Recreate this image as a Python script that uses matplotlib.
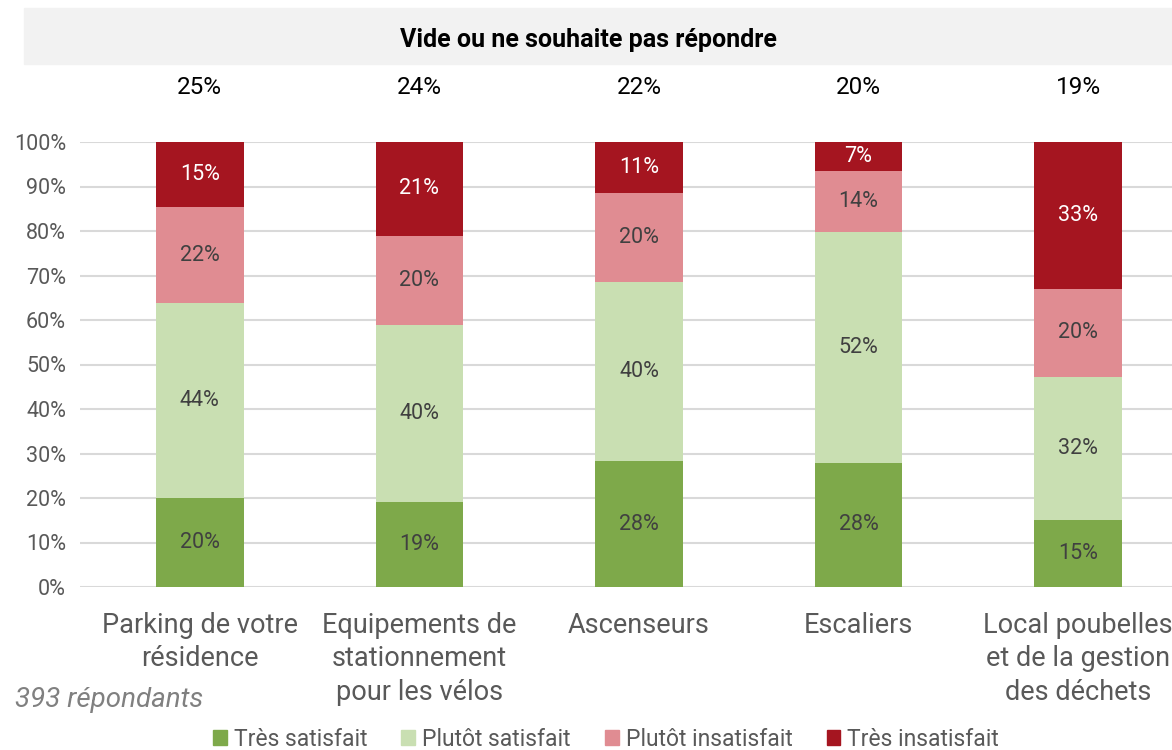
import matplotlib
matplotlib.use("Agg")
import matplotlib.pyplot as plt
from matplotlib.patches import Rectangle
import numpy as np

categories = ["Parking de votre\nrésidence", "Equipements de\nstationnement\npour les vélos",
              "Ascenseurs", "Escaliers", "Local poubelles\net de la gestion\ndes déchets"]
no_answer = ["25%", "24%", "22%", "20%", "19%"]
series_names = ["Très satisfait", "Plutôt satisfait", "Plutôt insatisfait", "Très insatisfait"]
tres_satisfait = [20.0, 19.1, 28.3, 27.9, 15.1]
plutot_satisfait = [43.8, 39.8, 40.2, 51.9, 32.1]
plutot_insatisfait = [21.6, 20.0, 20.0, 13.7, 19.8]
tres_insatisfait = [14.6, 21.1, 11.4, 6.6, 33.0]
yticks = [0, 10, 20, 30, 40, 50, 60, 70, 80, 90, 100]

colors = ["#7EA94A", "#C9DFB2", "#E08C92", "#A51520"]
label_colors = ["#404040", "#404040", "#404040", "#FFFFFF"]
series = [tres_satisfait, plutot_satisfait, plutot_insatisfait, tres_insatisfait]

plt.rcParams['font.family'] = ['Roboto', 'DejaVu Sans']

W, H = 1172, 750
fig = plt.figure(figsize=(W / 100, H / 100), dpi=100)
ax = fig.add_axes([80 / W, (H - 587) / H, (W - 80) / W, 445 / H])

x = np.arange(len(categories))
bottom = np.zeros(len(categories))
for vals, c, lc in zip(series, colors, label_colors):
    vals = np.array(vals)
    ax.bar(x, vals, width=0.4, bottom=bottom, color=c, zorder=3)
    for xi, b, v in zip(x, bottom, vals):
        ax.text(xi, b + v / 2, f"{round(v):.0f}%", ha="center", va="center",
                color=lc, fontsize=15.5, zorder=4)
    bottom += vals

ax.set_xlim(-0.546, 4.428)
ax.set_ylim(0, 100)
ax.set_yticks(yticks)
ax.set_yticklabels([f"{t}%" for t in yticks], fontsize=15.5, color="#595959")
ax.yaxis.grid(True, color="#D9D9D9", linewidth=1.5, zorder=0)
ax.set_axisbelow(True)
for s in ax.spines.values():
    s.set_visible(False)
ax.tick_params(axis="y", length=0, pad=10)
ax.tick_params(axis="x", length=0, pad=18)
ax.set_xticks(x)
ax.set_xticklabels(categories, fontsize=19.5, color="#595959", linespacing=1.3, va="top")

# header band
fig.patches.append(Rectangle((24 / W, (H - 64) / H), (W - 24) / W, 56 / H,
                             transform=fig.transFigure, color="#F2F2F2", zorder=0))
fig.text(588 / W, (H - 40) / H, "Vide ou ne souhaite pas répondre", ha="center", va="center",
         fontsize=18, fontweight="bold", color="#000000")
for xi, t in zip(x, no_answer):
    ax.text(xi, 1.0 + 55 / 445, t, transform=ax.get_xaxis_transform(), ha="center", va="center",
            fontsize=17.5, color="#000000")

fig.text(15 / W, (H - 700) / H, "393 répondants", ha="left", va="center",
         fontsize=20, style="italic", color="#808080")

handles = [Rectangle((0, 0), 1, 1, color=c) for c in colors]
leg = fig.legend(handles, series_names, loc="center", bbox_to_anchor=(606 / W, (H - 739) / H),
                 ncol=4, frameon=False, fontsize=16.5, handlelength=0.6, handleheight=0.6,
                 handletextpad=0.3, columnspacing=1.5)
for t in leg.get_texts():
    t.set_color("#595959")

fig.savefig("out.png", dpi=100)
